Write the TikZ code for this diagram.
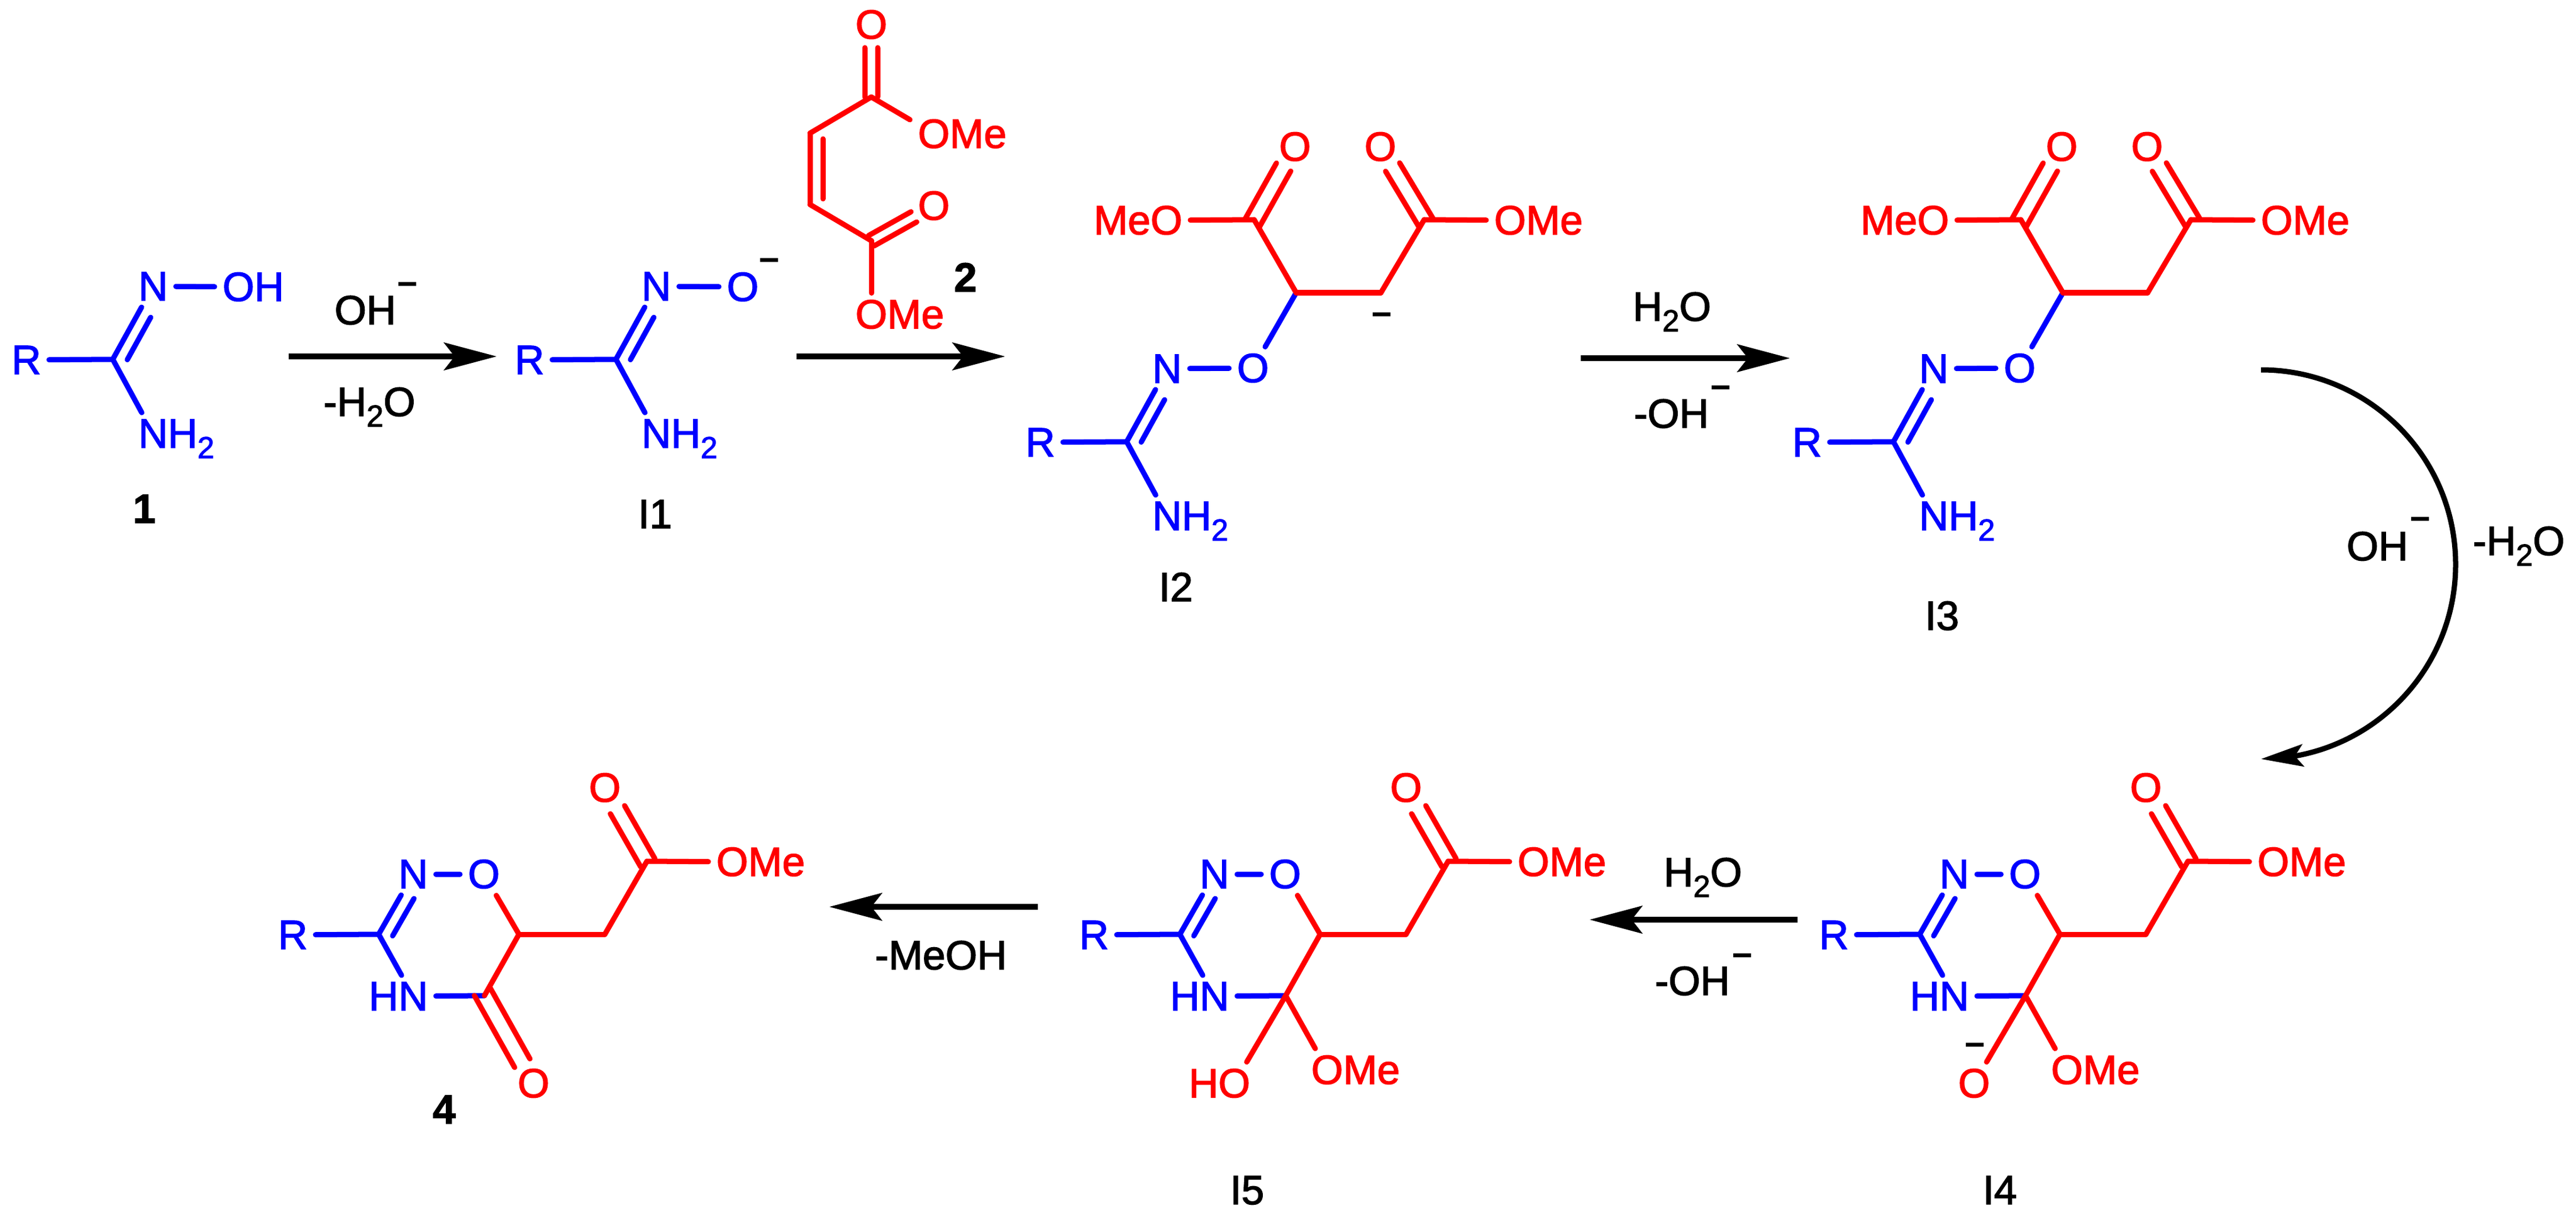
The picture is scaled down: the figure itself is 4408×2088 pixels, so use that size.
\documentclass[tikz,border=0pt]{standalone}
\usepackage{fontspec}
\setmainfont{Liberation Sans}[UprightFeatures={FakeBold=2},BoldFeatures={FakeBold=2}]
\newfontface\chargefont{Liberation Sans Bold}[FakeBold=1.5]
\usetikzlibrary{calc,arrows.meta,bending}
\newcommand\chemfont{\fontsize{19.9}{24}\selectfont}
\newcommand\subnum[1]{\smash{\raisebox{-0.18cm}{\fontsize{14.8}{16}\selectfont #1}}}
\def\shiftbond[#1](#2)(#3)(#4:#5:#6){\draw[#1] ($(#2)!#4!(#3)!#6cm!90:(#3)$) -- ($(#2)!#5!(#3)!#6cm!90:(#3)$);}
\tikzset{
	every node/.style={font=\chemfont},
	bluebond/.style={line width=0.09cm,line cap=round,line join=round,color=blue},
	redbond/.style={line width=0.09cm,line cap=round,line join=round,color=red},
	blueatom/.style={text=blue,inner xsep=0.13cm,inner ysep=0.11cm},
	redatom/.style={text=red,inner xsep=0.13cm,inner ysep=0.11cm},
	reagent/.style={anchor=base,inner sep=0pt},
	charge/.style={anchor=base,inner sep=0pt,yshift=-0.16cm,font=\fontsize{17}{20}\chargefont},
	rxnarrow/.style={line width=0.1cm,-{Stealth[length=0.9cm,width=0.47cm,inset=0.18cm]}},
	curvearrow/.style={line width=0.09cm,-{Stealth[length=0.72cm,width=0.38cm,inset=0.14cm]}}
}
% R-C(=N)-NH2 fragment, origin on the carbon
\def\amidine{
	\node[blueatom] (r) at (-148,1) {R};
	\coordinate (c) at (0,0);
	\node[blueatom] (n) at (69,-125) {N};
	\node[blueatom] (nh) at (69,127) {N\rlap{H\subnum{2}}};
	\draw[bluebond] (r) -- (c);
	\draw[bluebond] (c) -- (n);
	\shiftbond[bluebond](c)(n)(0.08:0.66:-0.22);
	\draw[bluebond] (c) -- (nh);
}
% open chain diester of the adducts
\def\adduct{
	\amidine
	\node[blueatom] (o) at (216,-126) {O};
	\coordinate (ch) at (290,-255);
	\coordinate (chb) at (435,-255);
	\coordinate (cl) at (218,-380);
	\coordinate (cr) at (509,-380);
	\node[redatom] (ol) at (288,-505) {O};
	\node[redatom] (or) at (434,-505) {O};
	\node[redatom] (ome) at (68,-379) {\llap{Me}O};
	\node[redatom] (omf) at (656,-379) {O\rlap{Me}};
	\draw[bluebond] (n) -- (o);
	\draw[bluebond] (ch) -- (o);
	\draw[redbond] (ch) -- (chb);
	\draw[redbond] (ch) -- (cl);
	\draw[redbond] (chb) -- (cr);
	\draw[redbond] (cl) -- (ome);
	\draw[redbond] (cr) -- (omf);
	\shiftbond[redbond](cl)(ol)(-0.04:0.72:0.14);
	\shiftbond[redbond](cl)(ol)(-0.04:0.72:-0.14);
	\shiftbond[redbond](cr)(or)(-0.04:0.72:0.14);
	\shiftbond[redbond](cr)(or)(-0.04:0.72:-0.14);
}
% oxadiazine ring with the side chain ester
\def\ringpart{
	\node[blueatom] (r) at (-147,1) {R};
	\coordinate (c) at (0,0);
	\node[blueatom] (n) at (59,-103) {N};
	\node[blueatom] (o) at (180,-103) {O};
	\node[blueatom] (nh) at (59,106) {\llap{H}N};
	\coordinate (ch) at (240,0);
	\coordinate (chb) at (387,0);
	\coordinate (ce) at (459,-125);
	\coordinate (cf) at (181,105);
	\node[redatom] (oe) at (387,-251) {O};
	\node[redatom] (omf) at (605,-124) {O\rlap{Me}};
	\draw[bluebond] (r) -- (c);
	\draw[bluebond] (c) -- (n);
	\shiftbond[bluebond](c)(n)(0.08:0.70:-0.22);
	\draw[bluebond] (c) -- (nh);
	\draw[bluebond] (n) -- (o);
	\draw[bluebond] (nh) -- (cf);
	\draw[redbond] (o) -- (ch);
	\draw[redbond] (ch) -- (chb);
	\draw[redbond] (ch) -- (cf);
	\draw[redbond] (chb) -- (ce);
	\draw[redbond] (ce) -- (omf);
	\shiftbond[redbond](ce)(oe)(-0.02:0.70:0.14);
	\shiftbond[redbond](ce)(oe)(-0.02:0.70:-0.14);
}
\begin{document}
\begin{tikzpicture}[x=0.01cm,y=-0.01cm]
	%%%%% START %%%%%
	\useasboundingbox (0,0) rectangle (4408,2088);

	% 1
	\begin{scope}[shift={(193,615)},name prefix=a-]
		\amidine
		\node[blueatom] (oh) at (215,-124) {O\rlap{H}};
		\draw[bluebond] (n) -- (oh);
	\end{scope}
	\node[reagent] (lab1) at (247,895) {\bfseries 1};

	% I1
	\begin{scope}[shift={(1054,615)},name prefix=b-]
		\amidine
		\node[blueatom] (o) at (217,-124) {O};
		\draw[bluebond] (n) -- (o);
	\end{scope}
	\node[charge] (chgb) at (1316,445) {–};
	\node[reagent] (labb) at (1121,904) {I1};

	% 2
	\coordinate (ca) at (1491,166);
	\coordinate (cb) at (1386,228);
	\coordinate (cc) at (1386,350);
	\coordinate (cd) at (1491,412);
	\node[redatom] (oa) at (1491,42) {O};
	\node[redatom] (ob) at (1598,229) {O\rlap{Me}};
	\node[redatom] (oc) at (1598,352) {O};
	\node[redatom] (od) at (1491,538) {O\rlap{Me}};
	\shiftbond[redbond](ca)(oa)(0:0.68:0.11);
	\shiftbond[redbond](ca)(oa)(0:0.68:-0.11);
	\draw[redbond] (ca) -- (ob);
	\draw[redbond] (ca) -- (cb);
	\draw[redbond] (cb) -- (cc);
	\shiftbond[redbond](cb)(cc)(0.08:0.92:0.22);
	\draw[redbond] (cc) -- (cd);
	\shiftbond[redbond](cd)(oc)(0:0.68:0.10);
	\shiftbond[redbond](cd)(oc)(0:0.68:-0.10);
	\draw[redbond] (cd) -- (od);
	\node[reagent] (lab2) at (1652,499) {\bfseries 2};

	% I2
	\begin{scope}[shift={(1928,756)},name prefix=c-]
		\adduct
	\end{scope}
	\node[charge] (chgc) at (2364,538) {–};
	\node[reagent] (labc) at (2012,1029) {I2};

	% I3
	\begin{scope}[shift={(3240,756)},name prefix=d-]
		\adduct
	\end{scope}
	\node[reagent] (labd) at (3323,1078) {I3};

	% I4
	\begin{scope}[shift={(3285,1599)},name prefix=e-]
		\ringpart
		\node[redatom] (ox) at (93,255) {O};
		\node[redatom] (oy) at (252,232) {O\rlap{Me}};
		\draw[redbond] (cf) -- (ox);
		\draw[redbond] (cf) -- (oy);
	\end{scope}
	\node[charge] (chge) at (3379,1788) {–};
	\node[reagent] (labe) at (3422,2061) {I4};

	% I5
	\begin{scope}[shift={(2019,1599)},name prefix=f-]
		\ringpart
		\node[redatom] (ox) at (93,255) {\llap{H}O};
		\node[redatom] (oy) at (252,232) {O\rlap{Me}};
		\draw[redbond] (cf) -- (ox);
		\draw[redbond] (cf) -- (oy);
	\end{scope}
	\node[reagent] (labf) at (2134,2061) {I5};

	% 4
	\begin{scope}[shift={(648,1599)},name prefix=g-]
		\ringpart
		\node[redatom] (ox) at (265,255) {O};
		\shiftbond[redbond](cf)(ox)(-0.05:0.77:0.15);
		\shiftbond[redbond](cf)(ox)(-0.05:0.77:-0.15);
	\end{scope}
	\node[reagent] (labg) at (760,1923) {\bfseries 4};

	% arrows
	\coordinate (aas) at (494,610);
	\coordinate (aae) at (850,610);
	\draw[rxnarrow] (aas) -- (aae);
	\node[reagent] (aat) at (625,555) {OH};
	\node[charge] (aac) at (697,486) {–};
	\node[reagent] (aab) at (632,712) {-H\subnum{2}O};

	\coordinate (abs) at (1363,610);
	\coordinate (abe) at (1720,610);
	\draw[rxnarrow] (abs) -- (abe);

	\coordinate (acs) at (2705,613);
	\coordinate (ace) at (3063,613);
	\draw[rxnarrow] (acs) -- (ace);
	\node[reagent] (act) at (2861,549) {H\subnum{2}O};
	\node[reagent] (acb) at (2860,732) {-OH};
	\node[charge] (acc) at (2944,663) {–};

	\coordinate (curvestart) at (3869,633);
	\draw[curvearrow] (curvestart) arc[start angle=-90,end angle=90,radius=333];
	\node[reagent] (adl) at (4068,959) {OH};
	\node[charge] (adc) at (4141,888) {–};
	\node[reagent] (adr) at (4310,950) {-H\subnum{2}O};

	\coordinate (aes) at (3076,1574);
	\coordinate (aee) at (2720,1574);
	\draw[rxnarrow] (aes) -- (aee);
	\node[reagent] (aet) at (2914,1517) {H\subnum{2}O};
	\node[reagent] (aeb) at (2896,1703) {-OH};
	\node[charge] (aec) at (2981,1635) {–};

	\coordinate (afs) at (1776,1552);
	\coordinate (afe) at (1419,1552);
	\draw[rxnarrow] (afs) -- (afe);
	\node[reagent] (afb) at (1610,1659) {-MeOH};
	%%%%% END %%%%%
\end{tikzpicture}
\end{document}
